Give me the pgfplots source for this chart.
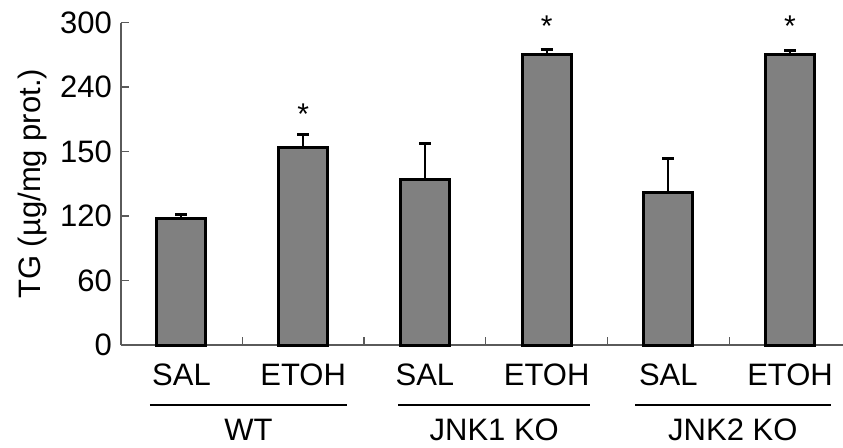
\documentclass[border=0pt]{standalone}
\usepackage{pgfplots}
\pgfplotsset{compat=1.18}
\usepackage{fontspec}
\setmainfont{Liberation Sans}
\definecolor{barfill}{RGB}{128,128,128}
\definecolor{axgray}{RGB}{90,90,90}
\begin{document}
\begin{tikzpicture}
\useasboundingbox (0,0) rectangle (421.5pt,223.5pt);
\begin{axis}[
  at={(60.5pt,51pt)}, anchor=south west,
  scale only axis, width=361pt, height=161.2pt,
  xmin=-0.497, xmax=5.435, ymin=0, ymax=300,
  axis lines=left, axis line style={-, axgray, line width=0.6pt},
  clip=false,
  ytick={0,60,120,180,240,300},
  yticklabels={0,60,120,150,240,300},
  xtick={0,1,2,3,4,5},
  xticklabels={SAL,ETOH,SAL,ETOH,SAL,ETOH},
  minor xtick={0.5,1.5,2.5,3.5,4.5},
  major tick length=4pt, minor tick length=4pt,
  x tick style={draw=none}, minor x tick style={draw=axgray, line width=0.6pt},
  y tick style={axgray, line width=0.6pt},
  tick align=inside,
  /pgf/number format/assume math mode=true,
  tick label style={font=\fontsize{15.5pt}{18pt}\selectfont},
  xticklabel style={yshift=-6pt},
  yticklabel style={xshift=-1pt},
  ylabel={TG (µg/mg prot.)},
  ylabel style={font=\fontsize{15.5pt}{18pt}\selectfont},
]
\addplot[ybar, bar width=24.5pt, bar shift=0pt, fill=barfill, draw=black, line width=1.5pt]
  coordinates {(0,117.9) (1,183.6) (2,153.6) (3,270.4) (4,141.6) (5,270.4)};
\addplot[draw=none, mark=none,
  error bars/.cd, y dir=plus, y explicit,
  error mark=|,
  error bar style={line width=1pt, black, solid},
  error mark options={line width=1.5pt, mark size=3pt, black, draw=black, solid}]
  coordinates {
  (0,117.9) +- (0,3.7)
  (1,183.6) +- (0,12.5)
  (2,153.6) +- (0,34.1)
  (3,270.4) +- (0,4.6)
  (4,141.6) +- (0,31.8)
  (5,270.4) +- (0,4.0)
  };
\node[font=\fontsize{15pt}{18pt}\selectfont] at (axis cs:1,215) {*};
\node[font=\fontsize{15pt}{18pt}\selectfont] at (axis cs:3,297) {*};
\node[font=\fontsize{15pt}{18pt}\selectfont] at (axis cs:5,297) {*};
\draw[black, line width=0.8pt] (axis cs:-0.26,-55.8) -- (axis cs:1.36,-55.8);
\draw[black, line width=0.8pt] (axis cs:1.78,-55.8) -- (axis cs:3.36,-55.8);
\draw[black, line width=0.8pt] (axis cs:3.73,-55.8) -- (axis cs:5.34,-55.8);
\node[font=\fontsize{15.5pt}{18pt}\selectfont] at (axis cs:0.55,-79) {WT};
\node[font=\fontsize{15.5pt}{18pt}\selectfont] at (axis cs:2.57,-79) {JNK1 KO};
\node[font=\fontsize{15.5pt}{18pt}\selectfont] at (axis cs:4.53,-79) {JNK2 KO};
\end{axis}
\end{tikzpicture}
\end{document}
